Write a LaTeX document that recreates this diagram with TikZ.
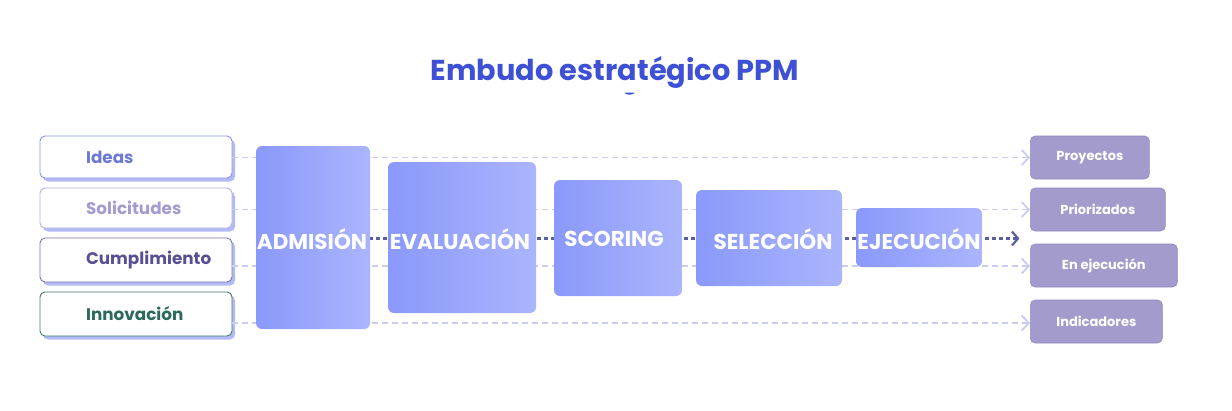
\documentclass[tikz,border=0pt]{standalone}
\usepackage{fontspec}
\setmainfont{Poppins}
\usetikzlibrary{arrows.meta,shadows}

\definecolor{titleblue}{HTML}{3D50D6}
\definecolor{stageleft}{HTML}{8A99FB}
\definecolor{stageright}{HTML}{ABB5FD}
\definecolor{flowdark}{HTML}{5A5E9C}
\definecolor{flowlight}{HTML}{C9CBF0}
\definecolor{outfill}{HTML}{A39BCC}
\definecolor{outline}{HTML}{9189C2}
\definecolor{shadowc}{HTML}{B3BAF6}
\definecolor{cideas}{HTML}{6B78D6}
\definecolor{csol}{HTML}{A29CD2}
\definecolor{ccum}{HTML}{565192}
\definecolor{cinn}{HTML}{2C6A5C}

\tikzset{
	inbox/.style={draw=#1, fill=white, rounded corners=5pt, line width=0.9pt, minimum width=192pt,
		drop shadow={shadow xshift=3pt, shadow yshift=-3.5pt, fill=shadowc, opacity=1}},
	inlabel/.style={anchor=west, text=#1, font=\fontsize{16.8}{18}\selectfont\bfseries},
	stagebox/.style={rounded corners=6pt, left color=stageleft, right color=stageright, inner sep=0pt},
	stagelabel/.style={text=white, inner sep=0pt, font=\fontsize{21.5}{24}\selectfont\bfseries},
	outbox/.style={anchor=west, draw=outline, fill=outfill, rounded corners=5pt, line width=0.7pt,
		minimum height=43pt, text=white, font=\fontsize{13}{14}\selectfont\bfseries},
	lightflow/.style={draw=flowlight, line width=1.8pt, dash pattern=on 6pt off 4pt,
		-{Straight Barb[length=7pt,width=15pt,line width=1.8pt]}},
	darkflow/.style={draw=flowdark, line width=2.2pt, dash pattern=on 4pt off 3pt}
}

\begin{document}
\begin{tikzpicture}[x=1pt,y=-1pt]
\useasboundingbox (0,0) rectangle (1232,410);

% title
\node (title) at (615,72) {\fontsize{28.8}{32}\selectfont\bfseries\color{titleblue}Embudo estratégico PPM};
\fill[titleblue] (624.5,92.5) arc[start angle=180, end angle=0, x radius=5, y radius=2.2] -- cycle;

% inputs
\node[inbox=cideas!80, minimum height=42pt] (ideas) at (136,157) {};
\node[inbox=csol!80, minimum height=40pt] (sol) at (136,208) {};
\node[inbox=ccum!80, minimum height=44pt] (cum) at (136,260) {};
\node[inbox=cinn!90, minimum height=44pt] (inn) at (136,314) {};
\node[inlabel=cideas] (ideasl) at ([xshift=43pt]ideas.west) {Ideas};
\node[inlabel=csol] (soll) at ([xshift=43pt]sol.west) {Solicitudes};
\node[inlabel=ccum] (cuml) at ([xshift=43pt]cum.west) {Cumplimiento};
\node[inlabel=cinn] (innl) at ([xshift=43pt]inn.west) {Innovación};

% outputs
\node[outbox, minimum width=119pt] (proy) at (1030,157.5) {Proyectos};
\node[outbox, minimum width=135pt] (prio) at (1030,209.5) {Priorizados};
\node[outbox, minimum width=147pt] (enej) at (1030,265.5) {En ejecución};
\node[outbox, minimum width=132pt] (indi) at (1030,321.5) {Indicadores};

% flows behind the stages
\draw[lightflow] (ideas.east |- proy.west) -- (proy.west);
\draw[lightflow] (sol.east |- prio.west) -- (prio.west);
\draw[lightflow] ([yshift=-0.5pt]cum.east |- enej.west) -- ([yshift=-0.5pt]enej.west);
\draw[lightflow] ([yshift=-1.5pt]inn.east |- indi.west) -- ([yshift=-1.5pt]indi.west);

% stages
\coordinate (end) at (1018,238.5);
\draw[darkflow] (313,238.5) -- (end);
\draw[flowdark, line width=2.2pt] ([xshift=-6pt,yshift=-7pt]end) -- (end) -- ([xshift=-6pt,yshift=7pt]end);
\node[stagebox, minimum width=114pt, minimum height=183pt] (adm) at (313,237.5) {};
\node[stagebox, minimum width=148pt, minimum height=151pt] (eva) at (462,237.5) {};
\node[stagebox, minimum width=128pt, minimum height=116pt] (sco) at (618,238) {};
\node[stagebox, minimum width=146pt, minimum height=96pt] (sel) at (769,238) {};
\node[stagebox, minimum width=126pt, minimum height=59pt] (eje) at (919,237.5) {};
\node[stagelabel] (adml) at ([xshift=-1pt,yshift=-1.5pt]adm.center) {ADMISIÓN};
\node[stagelabel] (eval) at ([xshift=-2pt,yshift=-1.5pt]eva.center) {EVALUACIÓN};
\node[stagelabel] (scol) at ([xshift=-4pt,yshift=-1pt]sco.center) {SCORING};
\node[stagelabel] (sell) at ([xshift=4pt,yshift=-1pt]sel.center) {SELECCIÓN};
\node[stagelabel] (ejel) at ([yshift=-1.5pt]eje.center) {EJECUCIÓN};
\end{tikzpicture}
\end{document}
